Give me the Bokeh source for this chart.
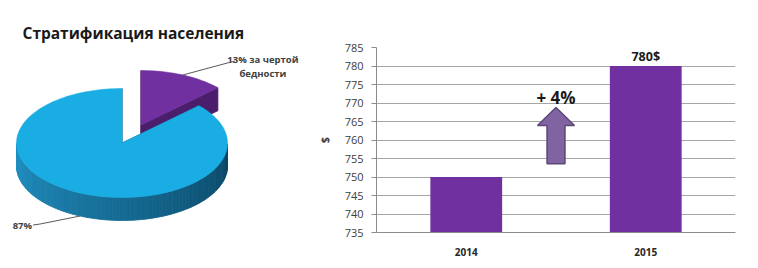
import numpy as np
from bokeh.plotting import figure
from bokeh.layouts import row
from bokeh.models import Range1d, FixedTicker, Label, ColumnDataSource
from bokeh.embed import file_html
from bokeh.resources import INLINE

# ---------------- data ----------------
pie_title = "Стратификация населения"
pie_labels = ["13% за чертой", "бедности"]
pie_main_label = "87%"
pie_shares = [13, 87]           # poverty, rest

bar_title = "Средний доход домохозяйства"
years = ["2014", "2015"]
income = [750, 780]
y_ticks = [735, 740, 745, 750, 755, 760, 765, 770, 775, 780, 785]
y_label = "$"

FONT = "Open Sans"
BORDER_TOP, BORDER_BOTTOM = 47, 36

# ---------------- pie (3D look) ----------------
A, B, DEPTH = 105.5, 54.5, 23.0          # ellipse semi-axes and wall depth in px
EXPLODE = (19.0, 18.0)                    # offset of the poverty slice
BLUE_TOP, PURPLE_TOP, PURPLE_SIDE = "#1AADE4", "#7030A0", "#4A1E6A"
SIDE_LIGHT, SIDE_DARK = np.array([33, 145, 196]), np.array([9, 68, 98])
CY = 142.5  # pixel row of the pie centre

pie = figure(width=300, height=268, output_backend="svg", toolbar_location=None,
             x_range=Range1d(-121.5, 178.5),
             y_range=Range1d(CY - (268 - BORDER_BOTTOM), CY - BORDER_TOP),
             x_axis_type=None, y_axis_type=None, min_border_left=0, min_border_right=0,
             min_border_top=BORDER_TOP, min_border_bottom=BORDER_BOTTOM)
pie.grid.visible = False
pie.outline_line_color = None
pie.background_fill_color = "white"
pie.border_fill_color = "white"
pie.title.text = pie_title
pie.title.align = "left"
pie.title.offset = 22
pie.title.vertical_align = "bottom"
pie.title.standoff = 7
pie.title.text_font = FONT
pie.title.text_font_style = "bold"
pie.title.text_font_size = "15.5px"
pie.title.text_color = "#1a1a1a"


def rim(theta, off):
    r = np.radians(theta)
    return off[0] + A * np.sin(r), off[1] + B * np.cos(r)


def hexcol(c):
    c = np.clip(np.round(c), 0, 255).astype(int)
    return "#%02x%02x%02x" % tuple(c)


def draw_slice(start, end, off, top_color, radial_color, shaded):
    n = max(4, int((end - start) / 2))
    th = np.linspace(start, end, n + 1)
    px, py = rim(th, off)
    xs_top = [off[0]] + list(px)
    ys_top = [off[1]] + list(py)
    walls = []
    for (x0, y0, x1, y1) in [(off[0], off[1], px[0], py[0]), (off[0], off[1], px[-1], py[-1])]:
        walls.append(([x0, x1, x1, x0], [y0, y1, y1 - DEPTH, y0 - DEPTH], radial_color, max(y0, y1)))
    for i in range(n):
        mid = (th[i] + th[i + 1]) / 2
        if np.cos(np.radians(mid)) < 0:
            if shaded:
                t = (mid - 90) / 180.0
                col = hexcol(SIDE_DARK + (SIDE_LIGHT - SIDE_DARK) * t)
            else:
                col = radial_color
            walls.append(([px[i], px[i + 1], px[i + 1], px[i]],
                          [py[i], py[i + 1], py[i + 1] - DEPTH, py[i] - DEPTH], col,
                          min(py[i], py[i + 1])))
    walls.sort(key=lambda w: -w[3])
    src = ColumnDataSource(dict(xs=[w[0] for w in walls], ys=[w[1] for w in walls],
                                c=[w[2] for w in walls]))
    pie.patches("xs", "ys", source=src, fill_color="c", line_color="c", line_width=0.8)
    pie.patch(xs_top, ys_top, fill_color=top_color, line_color=top_color, line_width=0.5)


total = float(sum(pie_shares))
poor_angle = 360.0 * pie_shares[0] / total
draw_slice(0.0, poor_angle, EXPLODE, PURPLE_TOP, PURPLE_SIDE, False)
draw_slice(poor_angle, 360.0, (0.0, 0.0), BLUE_TOP, "#0E6A96", True)

# leader lines & labels
mid_p = poor_angle / 2
lx0, ly0 = rim(mid_p, EXPLODE)
pie.line([lx0, lx0 + 52], [ly0, ly0 + 14], line_color="#595959", line_width=1)
lab_x = lx0 + 80
pie.add_layout(Label(x=lab_x, y=ly0 + 15, text=pie_labels[0], text_align="center",
                     text_baseline="middle", text_font=FONT, text_font_style="bold",
                     text_font_size="9.5px", text_color="#404040"))
pie.add_layout(Label(x=lab_x, y=ly0 + 1, text=pie_labels[1], text_align="center",
                     text_baseline="middle", text_font=FONT, text_font_style="bold",
                     text_font_size="9.5px", text_color="#404040"))

mid_b = poor_angle + (360.0 - poor_angle) / 2
bx0, by0 = rim(mid_b, (0.0, -DEPTH))
pie.line([bx0, bx0 - 40, bx0 - 47], [by0, by0 - 8, by0 - 9], line_color="#595959", line_width=1)
pie.add_layout(Label(x=bx0 - 48, y=by0 - 9, text=pie_main_label, text_align="right",
                     text_baseline="middle", text_font=FONT, text_font_style="bold",
                     text_font_size="9.5px", text_color="#404040"))

# ---------------- bar chart ----------------
bar = figure(width=458, height=268, output_backend="svg", toolbar_location=None,
             x_range=Range1d(0, len(years)), y_range=Range1d(y_ticks[0], y_ticks[-1]),
             min_border_left=76, min_border_right=23, min_border_top=BORDER_TOP,
             min_border_bottom=BORDER_BOTTOM)
bar.outline_line_color = None
bar.background_fill_color = "white"
bar.border_fill_color = "white"

xpos = [i + 0.5 for i in range(len(years))]
bar.vbar(x=xpos, top=income, bottom=y_ticks[0], width=0.4, fill_color="#7030A0", line_color=None)

bar.xgrid.visible = False
bar.ygrid.ticker = FixedTicker(ticks=y_ticks)
bar.ygrid.grid_line_color = "#A6A6A6"
bar.ygrid.grid_line_width = 1

ya = bar.yaxis[0]
ya.ticker = FixedTicker(ticks=y_ticks)
ya.axis_line_color = "#8C8C8C"
ya.major_tick_line_color = "#8C8C8C"
ya.major_tick_out = 5
ya.major_tick_in = 0
ya.minor_tick_line_color = None
ya.major_label_standoff = 8
ya.major_label_text_font = FONT
ya.major_label_text_font_size = "11px"
ya.major_label_text_color = "#404040"
ya.axis_label = y_label
ya.axis_label_text_font = FONT
ya.axis_label_text_font_size = "11px"
ya.axis_label_text_font_style = "bold"
ya.axis_label_text_color = "#404040"
ya.axis_label_standoff = 10

xa = bar.xaxis[0]
xa.ticker = FixedTicker(ticks=xpos)
xa.major_label_overrides = {x: y for x, y in zip(xpos, years)}
xa.axis_line_color = "#8C8C8C"
xa.major_tick_line_color = None
xa.minor_tick_line_color = None
xa.major_label_standoff = 9
xa.major_label_text_font = FONT
xa.major_label_text_font_size = "10px"
xa.major_label_text_font_style = "bold"
xa.major_label_text_color = "#262626"

bar.add_layout(Label(x=xpos[-1], y=income[-1], text=f"{income[-1]}$", text_align="center",
                     text_baseline="middle", y_offset=10, text_font=FONT, text_font_style="bold",
                     text_font_size="12.5px", text_color="#1a1a1a"))

growth = round((income[1] - income[0]) / income[0] * 100)
ax = (xpos[0] + xpos[1]) / 2
ARROW = dict(tip=768.8, head=763.9, base=753.6, head_w=0.103, shaft_w=0.05)
bar.patch([ax, ax + ARROW["head_w"], ax + ARROW["shaft_w"], ax + ARROW["shaft_w"],
           ax - ARROW["shaft_w"], ax - ARROW["shaft_w"], ax - ARROW["head_w"]],
          [ARROW["tip"], ARROW["head"], ARROW["head"], ARROW["base"], ARROW["base"],
           ARROW["head"], ARROW["head"]],
          fill_color="#8064A2", line_color="#5C4778", line_width=1.5)
bar.add_layout(Label(x=ax, y=771.5, text=f"+ {growth}%", text_align="center",
                     text_baseline="middle", text_font=FONT, text_font_style="bold",
                     text_font_size="17px", text_color="#1a1a1a"))

bar.add_layout(Label(x=(227 - 76) / 179.5, y=792.3, text=bar_title, text_align="center",
                     text_baseline="middle", text_font=FONT, text_font_style="bold",
                     text_font_size="15px", text_color="#1a1a1a"))

layout = row(pie, bar)
open("out.html", "w").write(file_html(layout, INLINE))
